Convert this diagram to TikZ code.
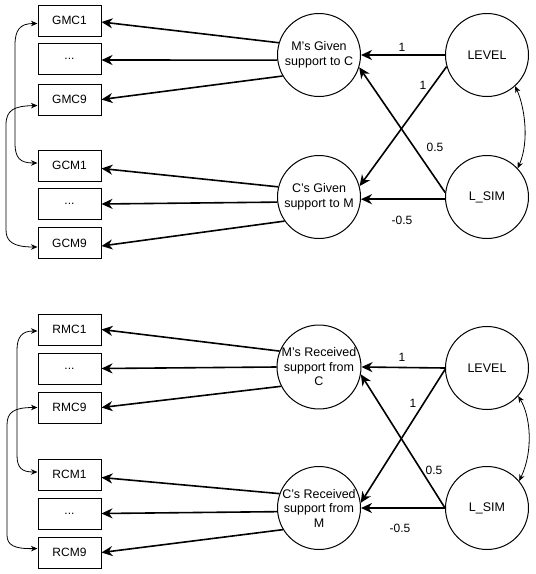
\documentclass[tikz,border=0pt]{standalone}
\usepackage{fontspec}
\setmainfont{Liberation Sans}
\usetikzlibrary{arrows.meta}
\begin{document}
\begin{tikzpicture}[x=1pt,y=-1pt,
 box/.style={draw, line width=1pt, minimum width=63pt, minimum height=31pt, inner sep=0pt, font=\fontsize{12}{13}\selectfont},
 lat/.style={draw, circle, line width=1pt, minimum size=83pt, inner sep=0pt, align=center, font=\fontsize{12.5}{14.5}\selectfont},
 reg/.style={line width=1.6pt, -{Stealth[length=11pt,width=10pt,inset=3.5pt]}},
 cov/.style={line width=0.8pt, {Stealth[length=6.5pt,width=5.5pt,inset=2pt]}-{Stealth[length=6.5pt,width=5.5pt,inset=2pt]}},
 lbl/.style={font=\fontsize{12}{13}\selectfont, inner sep=0pt}
]
\useasboundingbox (0,0) rectangle (536,574);
% ---------- top half ----------
\node[box] (gmc1) at (69.5,20.5) {GMC1};
\node[box] (gmd)  at (69.5,59)   {...};
\node[box] (gmc9) at (69.5,99.5) {GMC9};
\node[box] (gcm1) at (69.5,165.5) {GCM1};
\node[box] (gcd)  at (69.5,204)  {...};
\node[box] (gcm9) at (69.5,243)  {GCM9};
\node[lat] (mg) at (319,55) {M's Given\\support to C};
\node[lat] (cg) at (319,197) {C's Given\\support to M};
\node[lat] (lev1) at (487,55) {LEVEL};
\node[lat] (sim1) at (487,197) {L\_SIM};

\draw[reg] (mg.163) -- ([yshift=-1.5pt]gmc1.east);
\draw[reg] (mg.187) -- ([yshift=-1pt]gmd.east);
\draw[reg] (mg.210) -- (gmc9.east);
\draw[reg] (cg.166) -- ([yshift=-3pt]gcm1.east);
\draw[reg] (cg.187) -- (gcd.east);
\draw[reg] (cg.215) -- ([yshift=-3pt]gcm9.east);

\draw[reg] (lev1.180) -- (mg.0);
\draw[reg] (lev1.196) -- (cg.15);
\draw[reg] (sim1.174) -- (mg.343);
\draw[reg] (sim1.183) -- (cg.357);
\node[lbl] (t1) at (402,47) {1};
\node[lbl] (t2) at (423,85) {1};
\node[lbl] (t3) at (435,147) {0.5};
\node[lbl] (t4) at (402,220) {-0.5};

\draw[cov] (lev1.312) .. controls (524,105) and (530,140) .. (sim1.43);

\draw[cov] ([yshift=-3pt]gmc1.west) .. controls (20,23.5) and (15,30) .. (15,45) -- (15,143) .. controls (15,158) and (20,163) .. ([yshift=2.5pt]gcm1.west);
\draw[cov] ([yshift=-6pt]gmc9.west) .. controls (14,106) and (6,110) .. (6,125) -- (6,230) .. controls (6,242) and (14,247) .. ([yshift=-4pt]gcm9.west);

% ---------- bottom half ----------
\node[box] (rmc1) at (69.5,329.5) {RMC1};
\node[box] (rmd)  at (69.5,368.5) {...};
\node[box] (rmc9) at (69.5,407.5) {RMC9};
\node[box] (rcm1) at (69.5,474.5) {RCM1};
\node[box] (rcd)  at (69.5,513.5) {...};
\node[box] (rcm9) at (69.5,552.5) {RCM9};
\node[lat] (mr) at (319,367) {M’s Received\\support from\\C};
\node[lat] (cr) at (319,508) {C’s Received\\support from\\M};
\node[lat] (lev2) at (487,368) {LEVEL};
\node[lat] (sim2) at (487,508) {L\_SIM};

\draw[reg] (mr.158) -- (rmc1.east);
\draw[reg] (mr.180) -- (rmd.east);
\draw[reg] (mr.207) -- (rmc9.east);
\draw[reg] (cr.160) -- ([yshift=-3pt]rcm1.east);
\draw[reg] (cr.185) -- (rcd.east);
\draw[reg] (cr.211) -- (rcm9.east);

\draw[reg] (lev2.180) -- (mr.0);
\draw[reg] (lev2.182) -- (cr.7);
\draw[reg] (sim2.180) -- (mr.350);
\draw[reg] (sim2.180) -- (cr.0);
\node[lbl] (b1) at (402,357) {1};
\node[lbl] (b2) at (413,403) {1};
\node[lbl] (b3) at (434,470) {0.5};
\node[lbl] (b4) at (400,528) {-0.5};

\draw[cov] (lev2.318) .. controls (530,415) and (534,450) .. (sim2.40);

\draw[cov] ([yshift=-1.5pt]rmc1.west) .. controls (22,331) and (17,337) .. (17,350) -- (17,455) .. controls (17,468) and (22,472) .. ([yshift=2.5pt]rcm1.west);
\draw[cov] (rmc9.west) .. controls (14,407.5) and (7,412) .. (7,425) -- (7,535) .. controls (7,545) and (14,549) .. ([yshift=4pt]rcm9.west);
\end{tikzpicture}
\end{document}
